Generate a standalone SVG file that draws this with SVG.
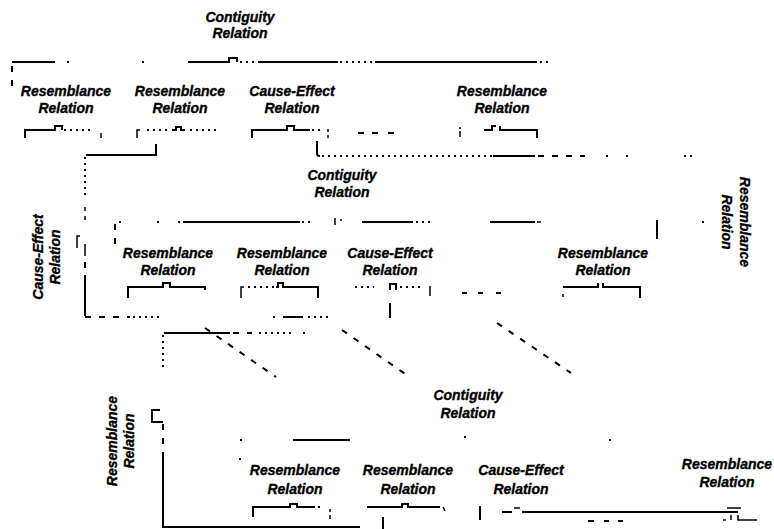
<svg xmlns="http://www.w3.org/2000/svg" width="774" height="529" viewBox="0 0 774 529">
<style>
.lbl{font-family:"Liberation Sans",Arial,sans-serif;font-size:14px;font-weight:bold;font-style:italic;fill:#000;stroke:#000;stroke-width:0.35;text-anchor:middle}
.s{fill:none;stroke:#000;stroke-width:2}
.t{fill:none;stroke:#000;stroke-width:1.5}
.d{fill:none;stroke:#000;stroke-width:2;stroke-dasharray:2 4}
.ds{fill:none;stroke:#000;stroke-width:2;stroke-dasharray:6 8}
</style>
<rect width="774" height="529" fill="#fff"/>

<g id="connectors">
  <!-- top bracket -->
  <path class="ds" d="M12,86 V63"/>
  <path class="s" d="M12,62 H55"/>
  <path class="d" d="M67,62 H70 M142,62 H145"/>
  <path class="s" d="M188,62 H229 V58 H237 V62"/>
  <path class="d" d="M240,62 H256"/>
  <path class="s" d="M258,62 H338"/>
  <path class="d" d="M340,62 H373"/>
  <path class="s" d="M375,62 H537"/>
  <path class="d" d="M540,62 H548"/>

  <!-- level 1 brackets -->
  <path class="s" d="M25,138 V130 H55 V126 H62 V130"/>
  <path class="d" d="M64,130 H92"/>
  <path class="t" d="M101,133 V138"/>
  <path class="t" d="M137,138 V130 H140"/>
  <path class="d" d="M147,130 H170"/>
  <path class="s" d="M172,130 H176 V127 H181 V130 H185"/>
  <path class="d" d="M190,130 H218"/>
  <path class="s" d="M252,138 V130 H287 V126 H294 V130 H310"/>
  <path class="d" d="M312,130 H322"/>
  <path class="t" d="M328,129 V132 M328,135 V138"/>
  <path class="s" d="M358,133 H364 M372,133 H378 M388,133 H394"/>
  <path class="t" d="M460,127 V129 M460,131 V137"/>
  <path class="s" d="M484,130 H492 V126 H496"/>
  <path class="s" d="M500,126 V130 H537 V138"/>

  <!-- link from level 1 to level 2 -->
  <path class="s" d="M156,144 V155 H86"/>
  <path class="d" d="M85,157 V195"/>
  <path class="t" d="M85,207 V211 M85,216 V220"/>
  <path class="t" d="M85,244 V256"/>
  <path class="t" d="M77,248 V236 H80"/>
  <path class="ds" d="M85,262 V270"/>
  <path class="s" d="M85,275 V316"/>
  <path class="ds" d="M85,317 H130"/>
  <path class="d" d="M133,317 H162"/>

  <path class="s" d="M317,141 V154 Q317,156 320,156"/>
  <path class="d" d="M322,156 H492"/>
  <path class="s" d="M493,156 H535"/>
  <path class="ds" d="M538,156 H585"/>
  <path class="d" d="M606,156 H610 M626,156 H630 M684,156 H692"/>

  <!-- level 2 top line -->
  <path class="ds" d="M115,244 V224"/>
  <path class="d" d="M119,222 H122 M157,222 H160 M178,222 H181"/>
  <path class="s" d="M183,222 H300"/>
  <path class="d" d="M302,222 H314"/>
  <path class="t" d="M335,218 V225 M341,219 V221"/>
  <path class="s" d="M362,222 H413"/>
  <path class="d" d="M416,222 H430"/>
  <path class="s" d="M490,222 H535"/>
  <path class="t" d="M537,222 H541"/>
  <path class="s" d="M657,220 V239"/>
  <path class="d" d="M702,222 H705"/>

  <!-- level 2 brackets -->
  <path class="s" d="M128,298 V287 H163 V283 H170 V287 H205 V290"/>
  <path class="t" d="M241,298 V287 H244"/>
  <path class="d" d="M248,287 H276"/>
  <path class="s" d="M276,287 H278 V283 H283 V287 H318 V298"/>
  <path class="d" d="M355,287 H374"/>
  <path class="s" d="M390,290 V284 H396 V290"/>
  <path class="d" d="M400,287 H424"/>
  <path class="t" d="M430,286 V296"/>
  <path class="s" d="M462,293 H467 M478,293 H483 M496,293 H501"/>
  <path class="t" d="M563,294 V297"/>
  <path class="s" d="M563,287 H598 V283"/>
  <path class="s" d="M603,283 V287 H640 V298"/>
  <path class="s" d="M390,303 V318"/>

  <!-- level 2 bottom line -->
  <path class="d" d="M273,317 H276"/>
  <path class="s" d="M283,317 H303"/>
  <path class="d" d="M308,317 H332"/>

  <!-- link to level 3 -->
  <path class="s" d="M164,333 H230"/>
  <path class="ds" d="M233,333 H252"/>
  <path class="d" d="M259,333 H292 M303,333 H306"/>
  <path class="d" d="M163,335 V369"/>
  <path class="ds" d="M205,328 L276,377"/>
  <path class="ds" d="M342,330 L411,378"/>
  <path class="ds" d="M497,323 L571,373"/>

  <!-- level 3 left frame -->
  <path class="s" d="M160,410 H152 V422 H163"/>
  <path class="d" d="M157,410 H162"/>
  <path class="ds" d="M163,424 V448"/>
  <path class="s" d="M163,452 V527 H360"/>
  <path class="s" d="M383,517 V529"/>

  <!-- level 3 top line -->
  <path class="d" d="M240,440 H243 M240,458 V463"/>
  <path class="s" d="M293,440 H350"/>
  <path class="d" d="M464,437 H470 M609,440 H612"/>

  <!-- level 3 brackets -->
  <path class="s" d="M253,517 V507 H290 V504 H297 V507 H315"/>
  <path class="d" d="M318,507 H324"/>
  <path class="t" d="M330,509 V512 M330,515 V519"/>
  <path class="s" d="M367,507 H402 V504 H408 V507 H440"/>
  <path class="t" d="M443,507 L445,511"/>
  <path class="s" d="M480,506 V520"/>
  <path class="s" d="M502,512 H512"/>
  <path class="t" d="M514,508 H520"/>
  <path class="s" d="M522,512 H738"/>
  <path class="t" d="M727,508 H741"/>
  <path class="s" d="M588,521 H594 M604,521 H609 M618,521 H623"/>
  <path class="t" d="M723,520 H726 M731,515 V520 M738,515 V520 H757"/>
</g>

<g id="n-top-contiguity"><text class="lbl" x="240" y="22">Contiguity</text><text class="lbl" x="240" y="38">Relation</text></g>

<g id="n-l1-resemblance-1"><text class="lbl" x="66" y="96">Resemblance</text><text class="lbl" x="66" y="113">Relation</text></g>
<g id="n-l1-resemblance-2"><text class="lbl" x="180" y="96">Resemblance</text><text class="lbl" x="180" y="113">Relation</text></g>
<g id="n-l1-cause-effect"><text class="lbl" x="292" y="96">Cause-Effect</text><text class="lbl" x="292" y="113">Relation</text></g>
<g id="n-l1-resemblance-4"><text class="lbl" x="502" y="96">Resemblance</text><text class="lbl" x="502" y="113">Relation</text></g>

<g id="n-l2-contiguity"><text class="lbl" x="342" y="180">Contiguity</text><text class="lbl" x="342" y="197">Relation</text></g>
<g id="n-l2-cause-effect-side" transform="translate(46,257) rotate(-90)"><text class="lbl" x="0" y="-3">Cause-Effect</text><text class="lbl" x="0" y="14">Relation</text></g>
<g id="n-l2-resemblance-side" transform="translate(737,222) rotate(90)"><text class="lbl" x="0" y="-3">Resemblance</text><text class="lbl" x="0" y="15">Relation</text></g>
<g id="n-l2-resemblance-1"><text class="lbl" x="168" y="258">Resemblance</text><text class="lbl" x="168" y="275">Relation</text></g>
<g id="n-l2-resemblance-2"><text class="lbl" x="282" y="258">Resemblance</text><text class="lbl" x="282" y="275">Relation</text></g>
<g id="n-l2-cause-effect"><text class="lbl" x="390" y="258">Cause-Effect</text><text class="lbl" x="390" y="275">Relation</text></g>
<g id="n-l2-resemblance-4"><text class="lbl" x="603" y="258">Resemblance</text><text class="lbl" x="603" y="275">Relation</text></g>

<g id="n-l3-contiguity"><text class="lbl" x="468" y="400">Contiguity</text><text class="lbl" x="468" y="418">Relation</text></g>
<g id="n-l3-resemblance-side" transform="translate(120,441) rotate(-90)"><text class="lbl" x="0" y="-3">Resemblance</text><text class="lbl" x="0" y="14">Relation</text></g>
<g id="n-l3-resemblance-1"><text class="lbl" x="295" y="475">Resemblance</text><text class="lbl" x="295" y="494">Relation</text></g>
<g id="n-l3-resemblance-2"><text class="lbl" x="408" y="475">Resemblance</text><text class="lbl" x="408" y="494">Relation</text></g>
<g id="n-l3-cause-effect"><text class="lbl" x="521" y="475">Cause-Effect</text><text class="lbl" x="521" y="494">Relation</text></g>
<g id="n-l3-resemblance-4"><text class="lbl" x="727" y="469">Resemblance</text><text class="lbl" x="727" y="487">Relation</text></g>
</svg>
